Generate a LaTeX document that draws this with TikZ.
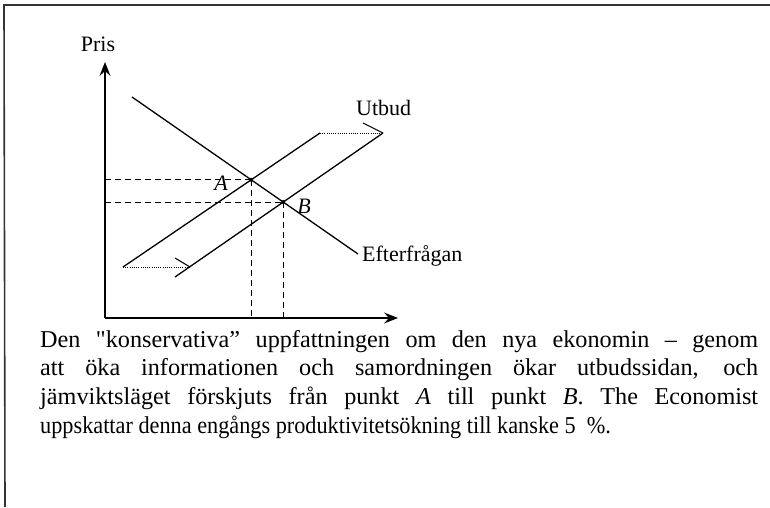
\documentclass[tikz,border=0pt]{standalone}
\usepackage{fontspec}
\setmainfont{Liberation Serif}
\newfontfamily\condfont[FakeStretch=0.92]{Liberation Serif}
\usetikzlibrary{arrows.meta,intersections}
\begin{document}
\begin{tikzpicture}[x=1pt,y=-1pt,
  frame/.style={line width=1.6pt, draw=black!80},
  axis/.style={line width=1.5pt, -{Stealth[length=14pt,width=11pt,inset=5pt]}},
  curve/.style={line width=1.3pt},
  guide/.style={line width=1.1pt, dash pattern=on 6pt off 4pt},
  shiftarrow/.style={line width=0.9pt, dash pattern=on 1pt off 1.2pt},
  pt/.style={circle, fill=black, inner sep=0pt, minimum size=4pt},
  lbl/.style={font=\fontsize{22}{24}\selectfont, inner sep=0pt},
  body/.style={font=\fontsize{24.2}{28.6}\selectfont, inner sep=0pt, text width=718pt, align=justify}
]
\useasboundingbox (0,0) rectangle (770,507);
% frame
\coordinate (F1) at (4,5);
\coordinate (F2) at (770,5);
\coordinate (F3) at (5,507);
\draw[frame] (F2) -- (F1) -- (F3);
% axes
\coordinate (O) at (105,318);
\coordinate (Ytop) at (105,62);
\coordinate (Xend) at (398,318);
\draw[axis] (O) -- (Ytop);
\draw[axis] (O) -- (Xend);
% curves
\coordinate (D1) at (132,97);
\coordinate (D2) at (358,254);
\coordinate (S1a) at (123,267);
\coordinate (S1b) at (320,133);
\coordinate (S2a) at (175,277);
\coordinate (S2b) at (383,133);
\draw[curve, name path=dem] (D1) -- (D2);
\draw[curve, name path=sup1] (S1a) -- (S1b);
\draw[curve, name path=sup2] (S2a) -- (S2b);
\path[name intersections={of=dem and sup1, by=A}];
\path[name intersections={of=dem and sup2, by=B}];
% guides
\draw[guide] (A -| O) -- (A);
\draw[guide] (B -| O) -- (B);
\draw[guide] (A) -- (A |- O);
\draw[guide] (B) -- (B |- O);
\node[pt] (pA) at (A) {};
\node[pt] (pB) at (B) {};
% shift arrows
\coordinate (S2m) at (190,267);
\coordinate (TipU) at (363,123);
\coordinate (TipL) at (175,258);
\draw[shiftarrow] (S1b) -- (S2b);
\draw[line width=1.1pt] (TipU) -- (S2b);
\draw[shiftarrow] (S1a) -- (S2m);
\draw[line width=1.1pt] (TipL) -- (S2m);
% labels
\node[lbl] (pris) at (98,44) {Pris};
\node[lbl, anchor=west] (utbud) at (356,108) {Utbud};
\node[lbl, anchor=west] (eft) at (362,256) {Efterfrågan};
\node[lbl] (lA) at (221,183) {\itshape A};
\node[lbl] (lB) at (304,206) {\itshape B};
% caption
\node[body, anchor=north west] (cap) at (40,330) {Den \textquotedbl konservativa'' uppfattningen om den nya ekonomin – genom\linebreak att öka informationen och samordningen ökar utbudssidan, och\linebreak jämviktsläget förskjuts från punkt \textit{A} till punkt \textit{B}. The Economist\linebreak {\condfont uppskattar denna engångs produktivitetsökning till kanske 5~~\%.}};
\end{tikzpicture}
\end{document}
